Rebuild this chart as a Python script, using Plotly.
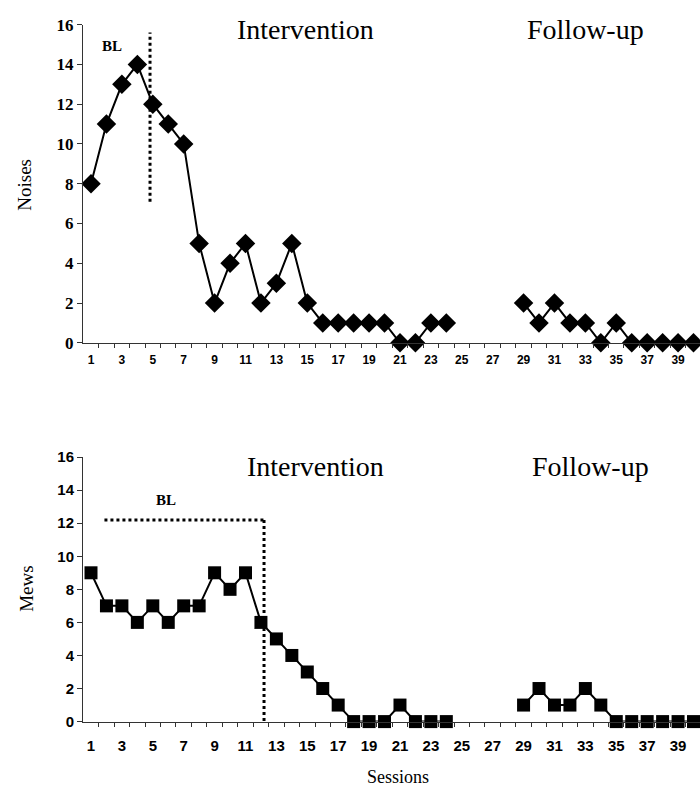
import plotly.graph_objects as go

sessions = list(range(1, 41))
noises = [8, 11, 13, 14, 12, 11, 10, 5, 2, 4, 5, 2, 3, 5, 2, 1, 1, 1, 1, 1, 0, 0, 1, 1,
          None, None, None, None,
          2, 1, 2, 1, 1, 0, 1, 0, 0, 0, 0, 0]
mews = [9, 7, 7, 6, 7, 6, 7, 7, 9, 8, 9, 6, 5, 4, 3, 2, 1, 0, 0, 0, 1, 0, 0, 0,
        None, None, None, None,
        1, 2, 1, 1, 2, 1, 0, 0, 0, 0, 0, 0]
x_ticks = list(range(1, 40, 2))
x_minor = [i + 0.5 for i in range(1, 40)]
y_ticks = list(range(0, 17, 2))

W, H = 700, 797
L = 83
PW = W - L
top_dom = [(H - 342) / H, (H - 16) / H]
bot_dom = [(H - 730) / H, (H - 459) / H]
xr = [0.482, 40.42]

fig = go.Figure()
fig.add_trace(go.Scatter(x=sessions, y=noises, mode="lines+markers",
                         line=dict(color="black", width=2),
                         marker=dict(symbol="diamond", size=15, color="black"),
                         cliponaxis=False, xaxis="x", yaxis="y", connectgaps=False))
fig.add_trace(go.Scatter(x=sessions, y=mews, mode="lines+markers",
                         line=dict(color="black", width=2),
                         marker=dict(symbol="square", size=13, color="black"),
                         cliponaxis=False, xaxis="x2", yaxis="y2", connectgaps=False))

common_x = dict(range=xr, showgrid=False, zeroline=False, showline=True,
                linecolor="#333", linewidth=1, tickmode="array", tickvals=x_ticks,
                ticks="", ticklen=0,
                minor=dict(tickvals=x_minor, ticks="outside", ticklen=4,
                           tickcolor="#333", tickwidth=1))
fig.update_layout(
    width=W, height=H, margin=dict(l=L, r=0, t=0, b=0),
    plot_bgcolor="white", paper_bgcolor="white", showlegend=False,
    xaxis=dict(domain=[0, 1], anchor="y", **common_x, ticklabelstandoff=6,
               tickfont=dict(family="Liberation Sans", size=12, color="black", weight="bold")),
    yaxis=dict(domain=top_dom, anchor="x", range=[0, 16], tickvals=y_ticks,
               showgrid=False, zeroline=False, showline=True, linecolor="#333",
               linewidth=1, ticks="outside", ticklen=5, tickcolor="#333",
               tickfont=dict(family="Liberation Serif", size=17, color="black", weight="bold")),
    xaxis2=dict(domain=[0, 1], anchor="y2", **common_x, ticklabelstandoff=10,
                tickfont=dict(family="Liberation Sans", size=15, color="black", weight="bold")),
    yaxis2=dict(domain=bot_dom, anchor="x2", range=[0, 16], tickvals=y_ticks,
                showgrid=False, zeroline=False, showline=True, linecolor="#333",
                linewidth=1, ticks="outside", ticklen=5, tickcolor="#333",
                tickfont=dict(family="Liberation Sans", size=15, color="black", weight="bold")),
)

dot = dict(color="black", width=3, dash="dot")
fig.add_shape(type="line", xref="x", yref="y", x0=4.82, x1=4.82, y0=7.1, y1=15.6, line=dot)
fig.add_shape(type="line", xref="x2", yref="y2", x0=1.87, x1=12.2, y0=12.2, y1=12.2, line=dot)
fig.add_shape(type="line", xref="x2", yref="y2", x0=12.2, x1=12.2, y0=12.2, y1=0, line=dot)

serif = "Liberation Serif"
def ann(text, x, y, xref, yref, size, bold=False, angle=0):
    fig.add_annotation(text=text, x=x, y=y, xref=xref, yref=yref, showarrow=False,
                       textangle=angle, xanchor="center", yanchor="middle",
                       font=dict(family=serif, size=size, color="black",
                                 weight="bold" if bold else "normal"))

ann("BL", 2.36, 14.9, "x", "y", 15, bold=True)
ann("Intervention", 14.9, 15.75, "x", "y", 28)
ann("Follow-up", 33.0, 15.75, "x", "y", 28)
ann("BL", 5.84, 13.4, "x2", "y2", 15, bold=True)
ann("Intervention", 15.5, 15.45, "x2", "y2", 28)
ann("Follow-up", 33.3, 15.45, "x2", "y2", 28)
ann("Noises", (25 - L) / PW, (H - 180) / H, "paper", "paper", 19, angle=-90)
ann("Mews", (27 - L) / PW, (H - 594) / H, "paper", "paper", 19, angle=-90)
ann("Sessions", (398 - L) / PW, (H - 787) / H, "paper", "paper", 18)

fig.write_html("out.html")
